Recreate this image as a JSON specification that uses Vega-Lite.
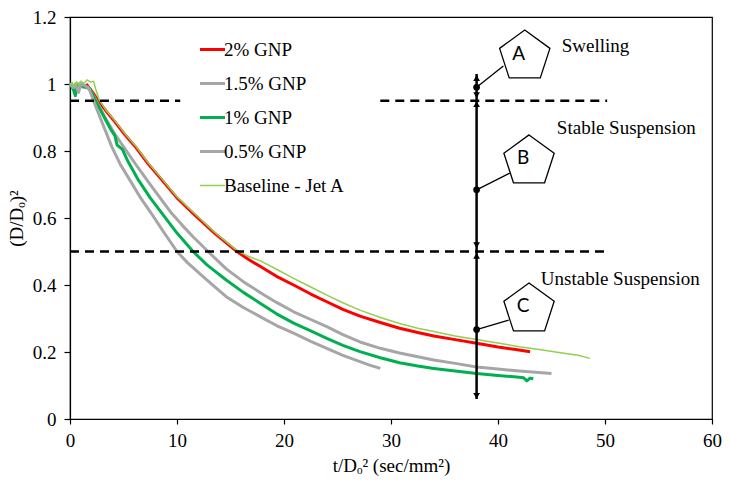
{
  "$schema": "https://vega.github.io/schema/vega-lite/v6.json",
  "width": 642,
  "height": 402,
  "autosize": "none",
  "padding": {"left": 70, "top": 17, "right": 21, "bottom": 64},
  "background": "white",
  "datasets": {
    "curves": [
      {"series": "2% GNP", "x": 1.5, "y": 1.0}, {"series": "2% GNP", "x": 2.0, "y": 0.98}, {"series": "2% GNP", "x": 2.6, "y": 0.952},
      {"series": "2% GNP", "x": 3.4, "y": 0.918}, {"series": "2% GNP", "x": 4.2, "y": 0.887}, {"series": "2% GNP", "x": 5.1, "y": 0.85},
      {"series": "2% GNP", "x": 6.1, "y": 0.813}, {"series": "2% GNP", "x": 7.3, "y": 0.762}, {"series": "2% GNP", "x": 8.6, "y": 0.713},
      {"series": "2% GNP", "x": 10.0, "y": 0.66}, {"series": "2% GNP", "x": 11.5, "y": 0.614}, {"series": "2% GNP", "x": 13.5, "y": 0.555},
      {"series": "2% GNP", "x": 15.6, "y": 0.5}, {"series": "2% GNP", "x": 16.7, "y": 0.476}, {"series": "2% GNP", "x": 17.8, "y": 0.455},
      {"series": "2% GNP", "x": 19.3, "y": 0.426}, {"series": "2% GNP", "x": 20.9, "y": 0.4}, {"series": "2% GNP", "x": 22.5, "y": 0.373},
      {"series": "2% GNP", "x": 24.0, "y": 0.35}, {"series": "2% GNP", "x": 25.5, "y": 0.327}, {"series": "2% GNP", "x": 27.1, "y": 0.307},
      {"series": "2% GNP", "x": 29.0, "y": 0.288}, {"series": "2% GNP", "x": 30.8, "y": 0.271}, {"series": "2% GNP", "x": 32.5, "y": 0.258},
      {"series": "2% GNP", "x": 34.0, "y": 0.248}, {"series": "2% GNP", "x": 36.0, "y": 0.237}, {"series": "2% GNP", "x": 38.0, "y": 0.226},
      {"series": "2% GNP", "x": 40.0, "y": 0.215}, {"series": "2% GNP", "x": 41.5, "y": 0.208}, {"series": "2% GNP", "x": 43.0, "y": 0.201},

      {"series": "1.5% GNP", "x": 0.0, "y": 1.0}, {"series": "1.5% GNP", "x": 0.4, "y": 0.99}, {"series": "1.5% GNP", "x": 0.8, "y": 1.0},
      {"series": "1.5% GNP", "x": 1.2, "y": 0.99}, {"series": "1.5% GNP", "x": 1.7, "y": 0.99}, {"series": "1.5% GNP", "x": 2.2, "y": 0.965},
      {"series": "1.5% GNP", "x": 2.7, "y": 0.935}, {"series": "1.5% GNP", "x": 3.4, "y": 0.893}, {"series": "1.5% GNP", "x": 4.2, "y": 0.85},
      {"series": "1.5% GNP", "x": 5.0, "y": 0.813}, {"series": "1.5% GNP", "x": 6.1, "y": 0.762}, {"series": "1.5% GNP", "x": 7.2, "y": 0.713},
      {"series": "1.5% GNP", "x": 8.3, "y": 0.665}, {"series": "1.5% GNP", "x": 9.5, "y": 0.614}, {"series": "1.5% GNP", "x": 10.5, "y": 0.578},
      {"series": "1.5% GNP", "x": 11.5, "y": 0.544}, {"series": "1.5% GNP", "x": 12.9, "y": 0.5}, {"series": "1.5% GNP", "x": 14.6, "y": 0.448},
      {"series": "1.5% GNP", "x": 16.2, "y": 0.41}, {"series": "1.5% GNP", "x": 17.8, "y": 0.377}, {"series": "1.5% GNP", "x": 19.3, "y": 0.348},
      {"series": "1.5% GNP", "x": 20.9, "y": 0.32}, {"series": "1.5% GNP", "x": 22.5, "y": 0.297}, {"series": "1.5% GNP", "x": 24.0, "y": 0.276},
      {"series": "1.5% GNP", "x": 25.5, "y": 0.252}, {"series": "1.5% GNP", "x": 27.1, "y": 0.23}, {"series": "1.5% GNP", "x": 29.0, "y": 0.211},
      {"series": "1.5% GNP", "x": 30.8, "y": 0.197}, {"series": "1.5% GNP", "x": 32.5, "y": 0.186}, {"series": "1.5% GNP", "x": 34.0, "y": 0.176},
      {"series": "1.5% GNP", "x": 36.0, "y": 0.166}, {"series": "1.5% GNP", "x": 38.0, "y": 0.155}, {"series": "1.5% GNP", "x": 40.0, "y": 0.149},
      {"series": "1.5% GNP", "x": 42.0, "y": 0.143}, {"series": "1.5% GNP", "x": 45.0, "y": 0.136},

      {"series": "1% GNP", "x": 0.0, "y": 1.0}, {"series": "1% GNP", "x": 0.3, "y": 0.985}, {"series": "1% GNP", "x": 0.5, "y": 0.965},
      {"series": "1% GNP", "x": 0.7, "y": 1.0}, {"series": "1% GNP", "x": 1.0, "y": 0.995}, {"series": "1% GNP", "x": 1.5, "y": 0.99},
      {"series": "1% GNP", "x": 1.9, "y": 0.985}, {"series": "1% GNP", "x": 2.2, "y": 0.962}, {"series": "1% GNP", "x": 2.8, "y": 0.925},
      {"series": "1% GNP", "x": 3.3, "y": 0.895}, {"series": "1% GNP", "x": 3.8, "y": 0.865}, {"series": "1% GNP", "x": 4.2, "y": 0.845},
      {"series": "1% GNP", "x": 4.4, "y": 0.818}, {"series": "1% GNP", "x": 4.9, "y": 0.805}, {"series": "1% GNP", "x": 5.4, "y": 0.77},
      {"series": "1% GNP", "x": 6.4, "y": 0.713}, {"series": "1% GNP", "x": 7.5, "y": 0.66}, {"series": "1% GNP", "x": 8.6, "y": 0.614},
      {"series": "1% GNP", "x": 10.0, "y": 0.555}, {"series": "1% GNP", "x": 11.5, "y": 0.5}, {"series": "1% GNP", "x": 12.8, "y": 0.46},
      {"series": "1% GNP", "x": 14.6, "y": 0.415}, {"series": "1% GNP", "x": 16.2, "y": 0.378}, {"series": "1% GNP", "x": 17.8, "y": 0.345},
      {"series": "1% GNP", "x": 19.3, "y": 0.314}, {"series": "1% GNP", "x": 20.9, "y": 0.286}, {"series": "1% GNP", "x": 22.5, "y": 0.263},
      {"series": "1% GNP", "x": 24.0, "y": 0.241}, {"series": "1% GNP", "x": 25.5, "y": 0.22}, {"series": "1% GNP", "x": 27.1, "y": 0.201},
      {"series": "1% GNP", "x": 29.0, "y": 0.183}, {"series": "1% GNP", "x": 30.8, "y": 0.168}, {"series": "1% GNP", "x": 32.5, "y": 0.158},
      {"series": "1% GNP", "x": 34.0, "y": 0.151}, {"series": "1% GNP", "x": 36.0, "y": 0.143}, {"series": "1% GNP", "x": 38.0, "y": 0.136},
      {"series": "1% GNP", "x": 40.0, "y": 0.13}, {"series": "1% GNP", "x": 41.5, "y": 0.126}, {"series": "1% GNP", "x": 42.4, "y": 0.123},
      {"series": "1% GNP", "x": 42.7, "y": 0.114}, {"series": "1% GNP", "x": 43.0, "y": 0.122}, {"series": "1% GNP", "x": 43.3, "y": 0.12},

      {"series": "0.5% GNP", "x": 0.0, "y": 1.0}, {"series": "0.5% GNP", "x": 0.3, "y": 0.99}, {"series": "0.5% GNP", "x": 0.5, "y": 1.0},
      {"series": "0.5% GNP", "x": 0.8, "y": 0.975}, {"series": "0.5% GNP", "x": 1.0, "y": 1.0}, {"series": "0.5% GNP", "x": 1.4, "y": 0.995},
      {"series": "0.5% GNP", "x": 1.8, "y": 0.985}, {"series": "0.5% GNP", "x": 2.2, "y": 0.95}, {"series": "0.5% GNP", "x": 3.0, "y": 0.885},
      {"series": "0.5% GNP", "x": 3.9, "y": 0.813}, {"series": "0.5% GNP", "x": 4.7, "y": 0.76}, {"series": "0.5% GNP", "x": 5.6, "y": 0.713},
      {"series": "0.5% GNP", "x": 6.6, "y": 0.66}, {"series": "0.5% GNP", "x": 7.6, "y": 0.614}, {"series": "0.5% GNP", "x": 8.8, "y": 0.556},
      {"series": "0.5% GNP", "x": 10.0, "y": 0.5}, {"series": "0.5% GNP", "x": 11.0, "y": 0.466}, {"series": "0.5% GNP", "x": 12.2, "y": 0.432},
      {"series": "0.5% GNP", "x": 13.4, "y": 0.398}, {"series": "0.5% GNP", "x": 14.6, "y": 0.365}, {"series": "0.5% GNP", "x": 16.2, "y": 0.333},
      {"series": "0.5% GNP", "x": 17.8, "y": 0.305}, {"series": "0.5% GNP", "x": 19.3, "y": 0.279}, {"series": "0.5% GNP", "x": 20.9, "y": 0.256},
      {"series": "0.5% GNP", "x": 22.5, "y": 0.232}, {"series": "0.5% GNP", "x": 24.0, "y": 0.211}, {"series": "0.5% GNP", "x": 25.5, "y": 0.19},
      {"series": "0.5% GNP", "x": 27.1, "y": 0.171}, {"series": "0.5% GNP", "x": 28.0, "y": 0.161}, {"series": "0.5% GNP", "x": 29.0, "y": 0.151},

      {"series": "Baseline - Jet A", "x": 0.0, "y": 1.0}, {"series": "Baseline - Jet A", "x": 0.2, "y": 1.004}, {"series": "Baseline - Jet A", "x": 0.4, "y": 0.993},
      {"series": "Baseline - Jet A", "x": 0.6, "y": 1.006}, {"series": "Baseline - Jet A", "x": 0.8, "y": 0.998}, {"series": "Baseline - Jet A", "x": 1.0, "y": 1.008},
      {"series": "Baseline - Jet A", "x": 1.3, "y": 1.002}, {"series": "Baseline - Jet A", "x": 1.6, "y": 1.012}, {"series": "Baseline - Jet A", "x": 1.9, "y": 1.006},
      {"series": "Baseline - Jet A", "x": 2.2, "y": 1.008}, {"series": "Baseline - Jet A", "x": 2.4, "y": 0.985}, {"series": "Baseline - Jet A", "x": 2.7, "y": 0.955},
      {"series": "Baseline - Jet A", "x": 3.4, "y": 0.92}, {"series": "Baseline - Jet A", "x": 4.2, "y": 0.89}, {"series": "Baseline - Jet A", "x": 5.1, "y": 0.853},
      {"series": "Baseline - Jet A", "x": 6.1, "y": 0.816}, {"series": "Baseline - Jet A", "x": 7.3, "y": 0.765}, {"series": "Baseline - Jet A", "x": 8.6, "y": 0.716},
      {"series": "Baseline - Jet A", "x": 10.0, "y": 0.663}, {"series": "Baseline - Jet A", "x": 11.5, "y": 0.617}, {"series": "Baseline - Jet A", "x": 13.5, "y": 0.558},
      {"series": "Baseline - Jet A", "x": 15.6, "y": 0.503}, {"series": "Baseline - Jet A", "x": 16.7, "y": 0.485}, {"series": "Baseline - Jet A", "x": 17.8, "y": 0.472},
      {"series": "Baseline - Jet A", "x": 19.3, "y": 0.447}, {"series": "Baseline - Jet A", "x": 20.9, "y": 0.42}, {"series": "Baseline - Jet A", "x": 22.5, "y": 0.394},
      {"series": "Baseline - Jet A", "x": 24.0, "y": 0.37}, {"series": "Baseline - Jet A", "x": 25.5, "y": 0.347}, {"series": "Baseline - Jet A", "x": 27.1, "y": 0.325},
      {"series": "Baseline - Jet A", "x": 29.0, "y": 0.303}, {"series": "Baseline - Jet A", "x": 30.8, "y": 0.285}, {"series": "Baseline - Jet A", "x": 32.5, "y": 0.271},
      {"series": "Baseline - Jet A", "x": 34.0, "y": 0.261}, {"series": "Baseline - Jet A", "x": 36.0, "y": 0.248}, {"series": "Baseline - Jet A", "x": 38.0, "y": 0.237},
      {"series": "Baseline - Jet A", "x": 40.0, "y": 0.227}, {"series": "Baseline - Jet A", "x": 42.0, "y": 0.216}, {"series": "Baseline - Jet A", "x": 44.0, "y": 0.207},
      {"series": "Baseline - Jet A", "x": 46.0, "y": 0.197}, {"series": "Baseline - Jet A", "x": 47.5, "y": 0.19}, {"series": "Baseline - Jet A", "x": 48.6, "y": 0.181}
    ],
    "dashes": [
      {"x": 0, "x2": 10.3, "y": 0.95},
      {"x": 29, "x2": 50.2, "y": 0.95},
      {"x": 0, "x2": 50, "y": 0.5}
    ],
    "stem": [{"x": 38, "y": 0.06, "y2": 1.03}],
    "heads": [
      {"x": 38, "y": 1.018, "dir": "up"},
      {"x": 38, "y": 0.967, "dir": "down"},
      {"x": 38, "y": 0.94, "dir": "up"},
      {"x": 38, "y": 0.519, "dir": "down"},
      {"x": 38, "y": 0.487, "dir": "up"},
      {"x": 38, "y": 0.069, "dir": "down"}
    ],
    "leaders": [
      {"x": 38, "y": 0.99, "x2": 40.5, "y2": 1.054},
      {"x": 38, "y": 0.684, "x2": 41.1, "y2": 0.734},
      {"x": 38, "y": 0.267, "x2": 41.0, "y2": 0.295}
    ],
    "dots": [
      {"x": 38, "y": 0.99},
      {"x": 38, "y": 0.684},
      {"x": 38, "y": 0.267}
    ],
    "stages": [
      {"label": "A", "x": 42.5, "y": 1.082},
      {"label": "B", "x": 42.9, "y": 0.769},
      {"label": "C", "x": 42.9, "y": 0.327}
    ],
    "notes": [
      {"text": "Swelling", "x": 45.95, "y": 1.112},
      {"text": "Stable Suspension", "x": 45.5, "y": 0.869},
      {"text": "Unstable Suspension", "x": 44.0, "y": 0.417}
    ]
  },
  "encoding": {
    "x": {
      "field": "x",
      "type": "quantitative",
      "scale": {"domain": [0, 60], "nice": false, "zero": false},
      "axis": {
        "title": "t/Dₒ² (sec/mm²)",
        "values": [0, 10, 20, 30, 40, 50, 60],
        "grid": false,
        "tickSize": 5,
        "labelPadding": 7,
        "titlePadding": 6,
        "labelFlush": false,
        "labelOverlap": false
      }
    },
    "y": {
      "field": "y",
      "type": "quantitative",
      "scale": {"domain": [0, 1.2], "nice": false, "zero": false},
      "axis": {
        "title": "(D/Dₒ)²",
        "values": [0, 0.2, 0.4, 0.6, 0.8, 1, 1.2],
        "format": ".1~f",
        "grid": false,
        "tickSize": 6,
        "labelPadding": 8,
        "titlePadding": 6,
        "labelFlush": false,
        "labelOverlap": false
      }
    }
  },
  "layer": [
    {
      "data": {"name": "curves"},
      "transform": [{"filter": "datum.series !== 'Baseline - Jet A'"}],
      "mark": {"type": "line", "strokeWidth": 3, "strokeJoin": "round"},
      "encoding": {
        "color": {
          "field": "series",
          "type": "nominal",
          "scale": {
            "domain": ["2% GNP", "1.5% GNP", "1% GNP", "0.5% GNP", "Baseline - Jet A"],
            "range": ["#ff0000", "#a6a6a6", "#00b050", "#a6a6a6", "#92d050"]
          },
          "legend": {
            "title": null,
            "orient": "none",
            "legendX": 133,
            "legendY": 23,
            "padding": 0,
            "symbolType": "stroke",
            "symbolSize": 625,
            "symbolStrokeWidth": 3,
            "labelFont": "Liberation Serif",
            "labelFontSize": 19,
            "labelColor": "black",
            "labelOffset": 2,
            "rowPadding": 14,
            "encode": {
              "symbols": {
                "update": {
                  "strokeWidth": {"signal": "datum.value === 'Baseline - Jet A' ? 1.5 : 3"}
                }
              }
            }
          }
        }
      }
    },
    {
      "data": {"name": "curves"},
      "transform": [{"filter": "datum.series === 'Baseline - Jet A'"}],
      "mark": {"type": "line", "strokeWidth": 1.5},
      "encoding": {
        "color": {"field": "series", "type": "nominal"}
      }
    },
    {
      "data": {"name": "dashes"},
      "mark": {"type": "rule", "color": "black", "strokeWidth": 2.5, "strokeDash": [9, 6]},
      "encoding": {"x2": {"field": "x2"}}
    },
    {
      "data": {"name": "stem"},
      "mark": {"type": "rule", "color": "black", "strokeWidth": 2.5},
      "encoding": {"y2": {"field": "y2"}}
    },
    {
      "data": {"name": "heads"},
      "mark": {"type": "point", "filled": true, "color": "black", "opacity": 1, "size": 45},
      "encoding": {
        "shape": {
          "field": "dir",
          "type": "nominal",
          "scale": {"domain": ["up", "down"], "range": ["triangle-up", "triangle-down"]},
          "legend": null
        }
      }
    },
    {
      "data": {"name": "leaders"},
      "mark": {"type": "rule", "color": "black", "strokeWidth": 1.3},
      "encoding": {"x2": {"field": "x2"}, "y2": {"field": "y2"}}
    },
    {
      "data": {"name": "dots"},
      "mark": {"type": "circle", "color": "black", "opacity": 1, "size": 45}
    },
    {
      "data": {"name": "stages"},
      "mark": {
        "type": "point",
        "shape": "M0,-1L0.951,-0.309L0.588,0.809L-0.588,0.809L-0.951,-0.309Z",
        "size": 2800,
        "fill": "white",
        "stroke": "black",
        "strokeWidth": 1.3,
        "opacity": 1,
        "fillOpacity": 1
      }
    },
    {
      "data": {"name": "stages"},
      "mark": {"type": "text", "font": "Lato", "fontSize": 19, "color": "black", "dx": -6, "dy": -3, "baseline": "middle", "align": "center"},
      "encoding": {"text": {"field": "label"}}
    },
    {
      "data": {"name": "notes"},
      "mark": {"type": "text", "font": "Liberation Serif", "fontSize": 19, "color": "black", "align": "left", "baseline": "middle"},
      "encoding": {"text": {"field": "text"}}
    }
  ],
  "config": {
    "view": {"stroke": "black", "strokeWidth": 1.2},
    "axis": {
      "domainColor": "black",
      "domainWidth": 1.2,
      "tickColor": "black",
      "tickWidth": 1.2,
      "labelFont": "Liberation Serif",
      "labelFontSize": 19,
      "labelColor": "black",
      "titleFont": "Liberation Serif",
      "titleFontSize": 19,
      "titleFontWeight": "normal",
      "titleColor": "black"
    }
  }
}
